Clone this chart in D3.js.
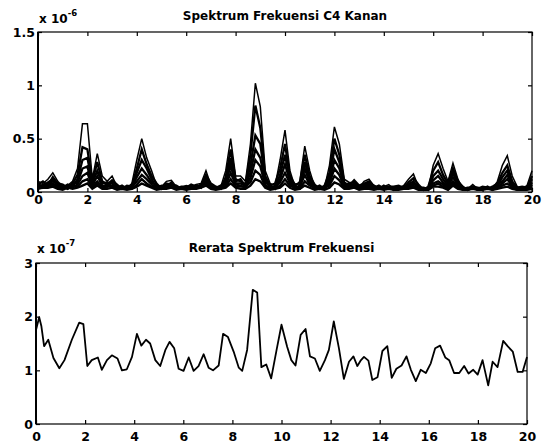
<!DOCTYPE html>
<html>
<head>
<meta charset="utf-8">
<script src="https://cdn.jsdelivr.net/npm/d3@7"></script>
<style>
  html, body { margin: 0; padding: 0; background: #fff; }
  svg { display: block; }
  text { font-family: "DejaVu Sans", Arial, sans-serif; font-weight: bold; fill: #000; }
</style>
</head>
<body>
<svg id="chart" width="546" height="447"></svg>
<script>
// ---------------- DATA ----------------
// Top panel: frequency grid (Hz) and individual spectra (values in hundredths of 1e-6)
const specFreq = d3.range(0, 20.0001, 0.2);
const spec1 = [10,8,12,18,10,5,6,10,22,64, 64,12,36,15,10,15,5,5,4,8, 30,50,32,20,6,5,10,11,5,4,
  6,5,7,8,20,6,3,5,20,50, 15,15,10,45,102,80,20,8,6,30, 58,20,5,10,43,20,5,5,4,25,
  61,45,12,9,9,4,10,12,6,4, 5,7,3,4,6,12,17,5,3,3, 25,36,22,10,27,12,3,3,7,3, 4,5,3,10,25,34,15,5,3,6, 20];
const spec2 = [7,10,6,14,8,7,4,8,16,42, 40,10,28,10,7,11,7,3,6,5, 22,40,26,15,8,3,8,7,6,3,
  4,7,5,6,16,8,5,3,14,40, 12,10,7,35,81,60,15,6,8,22, 45,15,7,8,35,15,7,3,6,18,
  50,35,9,6,11,6,8,10,4,6, 3,5,5,6,4,9,13,7,2,5, 20,28,16,8,22,10,5,2,5,4, 3,3,5,8,18,25,10,4,5,4, 15];
const spec3 = [5,6,9,12,6,4,7,5,12,30, 32,8,20,8,9,8,4,6,3,6, 18,30,22,12,4,6,5,9,3,5,
  5,3,6,4,14,5,4,6,10,32, 10,12,5,25,53,45,12,4,5,16, 35,12,4,6,28,12,4,6,3,14,
  40,28,7,8,6,3,7,8,6,3, 6,3,4,3,5,7,10,4,4,3, 15,20,12,6,18,8,3,4,4,3, 5,4,3,6,14,20,8,3,4,5, 12];
const spec4 = [8,4,7,10,7,6,3,7,9,22, 24,6,15,6,5,10,6,3,5,4, 14,22,16,9,6,4,7,6,4,3,
  3,5,4,7,12,4,3,4,8,25, 8,8,6,18,40,32,9,6,3,12, 26,10,5,4,22,9,5,3,5,10,
  30,22,6,5,8,5,5,7,3,5, 4,5,2,5,3,6,8,5,2,4, 11,15,9,5,14,6,4,2,5,2, 3,5,2,7,10,16,6,4,2,4, 9];
const spec5 = [4,7,5,8,5,3,5,4,7,15, 18,5,10,5,7,6,3,5,3,5, 10,16,12,7,3,5,5,7,3,4,
  4,4,6,5,10,6,4,3,6,18, 7,6,4,13,30,24,7,3,4,9, 18,8,3,5,16,7,3,4,3,8,
  22,16,5,6,5,3,6,5,4,3, 3,4,3,3,4,5,6,3,3,2, 8,10,7,4,10,5,2,3,3,3, 4,3,4,5,8,12,5,3,3,3, 7];
const spec6 = [6,5,8,6,4,5,3,6,5,10, 12,4,8,4,5,5,4,3,4,3, 7,12,8,5,4,3,4,5,4,3,
  3,5,3,6,8,4,3,4,5,12, 5,5,5,9,20,16,5,4,3,6, 12,6,4,3,10,6,4,3,4,6,
  15,11,4,4,6,4,4,4,3,4, 4,3,3,4,3,4,5,4,2,3, 6,8,5,3,8,4,3,2,4,2, 3,4,2,4,6,8,4,2,3,3, 5];
const spec7 = [3,4,4,5,3,2,4,3,4,6, 8,3,6,3,3,4,2,3,2,3, 5,8,6,4,2,3,3,4,2,3,
  2,3,3,4,6,3,2,3,4,8, 4,3,3,6,12,10,4,2,3,4, 8,4,2,3,6,4,2,3,2,4,
  9,7,3,3,4,2,3,3,2,3, 2,3,2,2,3,3,4,2,2,2, 5,5,4,2,6,3,2,2,3,2, 2,3,2,3,4,5,3,2,2,2, 3];
const spectra = [spec1, spec2, spec3, spec4, spec5, spec6, spec7];

// Bottom panel: mean spectrum (values in 1e-7 units)
const meanFreq = [0,0.13,0.22,0.33,0.5,0.71,0.95,1.16,1.46,1.76,1.93,2.09,2.27,2.52,2.68,2.89,3.09,3.32,3.5,3.7,
  3.91,4.11,4.29,4.48,4.65,4.86,5.06,5.27,5.44,5.63,5.81,6.01,6.22,6.42,6.62,6.83,7.03,7.21,7.44,7.62,
  7.82,8.05,8.26,8.4,8.6,8.83,9.01,9.18,9.38,9.58,9.8,10.0,10.23,10.4,10.57,10.78,10.98,11.16,11.36,11.56,
  11.77,11.93,12.13,12.34,12.54,12.75,12.93,13.09,13.22,13.36,13.54,13.7,13.91,14.11,14.31,14.49,14.68,14.89,15.09,15.27,
  15.47,15.67,15.88,16.08,16.26,16.46,16.67,16.83,17.03,17.24,17.44,17.62,17.81,17.99,18.19,18.42,18.6,18.8,19.03,19.21,
  19.42,19.62,19.82,20.0];
const meanVal = [1.75,1.99,1.82,1.45,1.57,1.23,1.04,1.19,1.57,1.89,1.86,1.08,1.19,1.24,1.01,1.19,1.28,1.22,1.0,1.02,
  1.25,1.68,1.46,1.57,1.5,1.19,1.08,1.38,1.53,1.41,1.03,0.99,1.24,0.99,1.08,1.3,1.05,1.0,1.09,1.68,
  1.62,1.35,1.05,0.99,1.38,2.5,2.45,1.06,1.11,0.85,1.38,1.85,1.44,1.19,1.09,1.66,1.77,1.26,1.22,0.99,
  1.19,1.38,1.91,1.41,0.84,1.16,1.26,1.08,1.18,1.25,1.18,0.82,0.87,1.36,1.45,0.86,1.03,1.09,1.26,1.01,
  0.8,1.01,0.95,1.13,1.41,1.46,1.24,1.19,0.95,0.95,1.08,0.94,1.01,0.92,1.19,0.72,1.16,1.06,1.55,1.45,
  1.35,0.97,0.97,1.25];

const xTicks = [0,2,4,6,8,10,12,14,16,18,20];
const topYTicks = [0, 50, 100, 150];
const topYLabels = ["0", "0.5", "1", "1.5"];
const botYTicks = [0, 1, 2, 3];
const topTitle = "Spektrum Frekuensi C4 Kanan";
const botTitle = "Rerata Spektrum Frekuensi";

// ---------------- DRAW ----------------
const svg = d3.select("#chart");
const FONT = "DejaVu Sans, Arial, sans-serif";

function panel(cfg) {
  const g = svg.append("g");
  const x = d3.scaleLinear().domain([0, 20]).range([cfg.left, cfg.right]);
  const y = d3.scaleLinear().domain(cfg.yDomain).range([cfg.bottom, cfg.top]);

  g.append("rect").attr("x", cfg.left).attr("y", cfg.top)
    .attr("width", cfg.right - cfg.left).attr("height", cfg.bottom - cfg.top)
    .attr("fill", "none").attr("stroke", "#000").attr("stroke-width", 1.2);
  g.append("line").attr("x1", cfg.left).attr("x2", cfg.left).attr("y1", cfg.top).attr("y2", cfg.bottom)
    .attr("stroke", "#000").attr("stroke-width", 2);

  const ax = (gen) => gen.tickSizeOuter(0);
  const bx = g.append("g").attr("transform", `translate(0,${cfg.bottom})`)
    .call(ax(d3.axisBottom(x).tickValues(xTicks).tickSizeInner(-4).tickPadding(cfg.xPad).tickFormat(d3.format("d"))));
  const tx = g.append("g").attr("transform", `translate(0,${cfg.top})`)
    .call(ax(d3.axisTop(x).tickValues(xTicks).tickSizeInner(-4).tickFormat("")));
  const ly = g.append("g").attr("transform", `translate(${cfg.left},0)`)
    .call(ax(d3.axisLeft(y).tickValues(cfg.yTicks).tickSizeInner(-4).tickPadding(3)
      .tickFormat((d, i) => cfg.yLabels[i])));
  const ry = g.append("g").attr("transform", `translate(${cfg.right},0)`)
    .call(ax(d3.axisRight(y).tickValues(cfg.yTicks).tickSizeInner(-4).tickFormat("")));
  [bx, tx, ly, ry].forEach(a => {
    a.select(".domain").remove();
    a.selectAll("line").attr("stroke", "#000").attr("stroke-width", 1.2);
    a.selectAll("text").attr("font-size", 12.5).attr("font-family", FONT)
      .attr("font-weight", "bold").attr("fill", "#000");
  });

  g.append("text").attr("x", (cfg.left + cfg.right) / 2).attr("y", cfg.titleY)
    .attr("text-anchor", "middle").attr("font-size", 12).text(cfg.title);
  const ex = g.append("text").attr("x", cfg.left + 1).attr("y", cfg.expY).attr("font-size", 12);
  ex.append("tspan").text("x 10");
  ex.append("tspan").attr("dy", -7).attr("font-size", 8.5).text(cfg.exp);
  return { g, x, y };
}

// Top panel
const topP = panel({ left: 38, right: 532, top: 32, bottom: 192, yDomain: [0, 150],
  yTicks: topYTicks, yLabels: topYLabels, title: topTitle, titleY: 20, expY: 23, exp: "-6", xPad: 3 });
const lineTop = d3.line().x((d, i) => topP.x(specFreq[i])).y(d => topP.y(d));
spectra.forEach((s, idx) => {
  topP.g.append("path").datum(s).attr("d", lineTop)
    .attr("fill", "none").attr("stroke", "#000")
    .attr("stroke-width", idx === 0 ? 1.5 : 2.3)
    .attr("stroke-linejoin", "miter");
});

// Bottom panel
const botP = panel({ left: 36, right: 527, top: 263, bottom: 424, yDomain: [0, 3],
  yTicks: botYTicks, yLabels: botYTicks.map(String), title: botTitle, titleY: 252, expY: 253, exp: "-7", xPad: 8 });
const lineBot = d3.line().x((d, i) => botP.x(meanFreq[i])).y(d => botP.y(d));
botP.g.append("path").datum(meanVal).attr("d", lineBot)
  .attr("fill", "none").attr("stroke", "#000").attr("stroke-width", 1.8).attr("stroke-linejoin", "round");
</script>
</body>
</html>
